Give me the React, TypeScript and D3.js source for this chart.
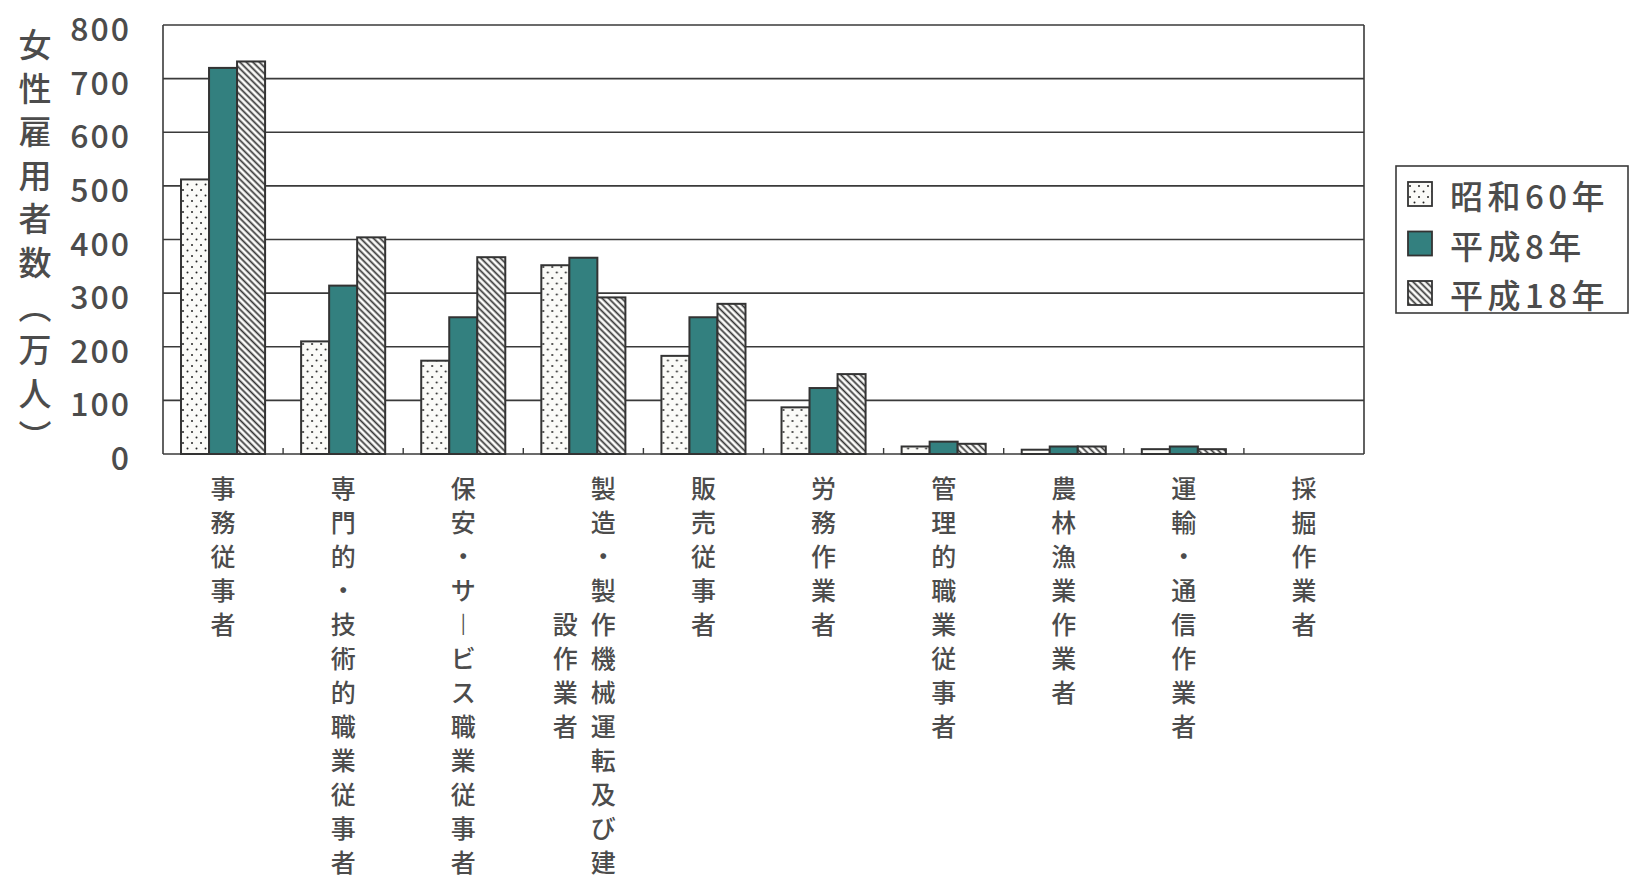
import React, { useEffect, useRef } from "react";
import * as d3 from "d3";

// occupations (each entry = vertical label columns, right to left)
const categories = [
  "事務従事者",
  "専門的・技術的職業従事者",
  "保安・サービス職業従事者",
  "製造・製作機械運転及び建設作業者",
  "販売従事者",
  "労務作業者",
  "管理的職業従事者",
  "農林漁業作業者",
  "運輸・通信作業者",
  "採掘作業者",
];
const labelColumns: string[][] = [
  ["事務従事者"],
  ["専門的・技術的職業従事者"],
  ["保安・サービス職業従事者"],
  ["製造・製作機械運転及び建", "設作業者"],
  ["販売従事者"],
  ["労務作業者"],
  ["管理的職業従事者"],
  ["農林漁業作業者"],
  ["運輸・通信作業者"],
  ["採掘作業者"],
];

const seriesNames = ["昭和60年", "平成8年", "平成18年"];
const showa60 = [512, 210, 174, 352, 183, 87, 14, 8, 9, 0];
const heisei8 = [720, 314, 255, 366, 255, 123, 23, 14, 14, 0];
const heisei18 = [732, 404, 367, 292, 280, 149, 19, 14, 9, 0];

const yTicks = [0, 100, 200, 300, 400, 500, 600, 700, 800];
const yTitle = ["女", "性", "雇", "用", "者", "数", "︵", "万", "人", "︶"];

const W = 1630;
const H = 887;
const FONT = "'Noto Sans CJK JP', 'Noto Sans', sans-serif";
const TEXT = "#4c4c4c";
const LINE = "#3a3a3a";
const TEAL = "#33807f";

const App: React.FC = () => {
  const svgRef = useRef<SVGSVGElement | null>(null);

  useEffect(() => {
    if (!svgRef.current) return;
    const svg = d3.select(svgRef.current);
    svg.selectAll("*").remove();

    const plot = { left: 163, right: 1364, top: 25, bottom: 454 };

    const defs = svg.append("defs");
    const dots = defs
      .append("pattern")
      .attr("id", "dots")
      .attr("patternUnits", "userSpaceOnUse")
      .attr("width", 9)
      .attr("height", 11);
    dots.append("rect").attr("width", 9).attr("height", 11).attr("fill", "#fbfbf8");
    dots.append("circle").attr("cx", 2).attr("cy", 3).attr("r", 1).attr("fill", "#222");
    dots.append("circle").attr("cx", 6.5).attr("cy", 8.5).attr("r", 1).attr("fill", "#222");

    const hatch = defs
      .append("pattern")
      .attr("id", "hatch")
      .attr("patternUnits", "userSpaceOnUse")
      .attr("width", 4.6)
      .attr("height", 4.6)
      .attr("patternTransform", "rotate(45)");
    hatch.append("rect").attr("width", 4.6).attr("height", 4.6).attr("fill", "#fcfcfa");
    hatch
      .append("line")
      .attr("x1", 0)
      .attr("x2", 4.6)
      .attr("y1", 2.3)
      .attr("y2", 2.3)
      .attr("stroke", "#333")
      .attr("stroke-width", 1.7);

    const fills = ["url(#dots)", TEAL, "url(#hatch)"];

    svg.append("rect").attr("width", W).attr("height", H).attr("fill", "#fff");

    const x0 = d3
      .scaleBand<string>()
      .domain(categories)
      .range([plot.left, plot.right])
      .paddingInner(0.3)
      .paddingOuter(0.15);
    const x1 = d3
      .scaleBand<string>()
      .domain(seriesNames)
      .range([0, x0.bandwidth()]);
    const y = d3.scaleLinear().domain([0, 800]).range([plot.bottom, plot.top]);

    // grid
    svg
      .append("g")
      .selectAll("line")
      .data(yTicks)
      .enter()
      .append("line")
      .attr("x1", plot.left)
      .attr("x2", plot.right)
      .attr("y1", (d) => y(d))
      .attr("y2", (d) => y(d))
      .attr("stroke", LINE)
      .attr("stroke-width", 1.6);
    svg
      .append("g")
      .selectAll("line")
      .data([plot.left, plot.right])
      .enter()
      .append("line")
      .attr("x1", (d) => d)
      .attr("x2", (d) => d)
      .attr("y1", plot.top)
      .attr("y2", plot.bottom)
      .attr("stroke", LINE)
      .attr("stroke-width", 1.6);

    // category ticks on baseline
    const step = x0.step();
    svg
      .append("g")
      .selectAll("line")
      .data(d3.range(1, categories.length))
      .enter()
      .append("line")
      .attr("x1", (i) => plot.left + i * step)
      .attr("x2", (i) => plot.left + i * step)
      .attr("y1", plot.bottom)
      .attr("y2", plot.bottom - 6)
      .attr("stroke", LINE)
      .attr("stroke-width", 1.4);

    // bars
    const rows = categories.map((c, i) => ({
      cat: c,
      vals: [showa60[i], heisei8[i], heisei18[i]],
    }));
    const groups = svg
      .append("g")
      .selectAll("g")
      .data(rows)
      .enter()
      .append("g")
      .attr("transform", (d) => `translate(${x0(d.cat)},0)`);
    groups
      .selectAll("rect")
      .data((d) => d.vals.map((v, k) => ({ v, k })))
      .enter()
      .filter((d) => d.v > 0)
      .append("rect")
      .attr("x", (d) => x1(seriesNames[d.k]) as number)
      .attr("width", x1.bandwidth())
      .attr("y", (d) => y(d.v))
      .attr("height", (d) => plot.bottom - y(d.v))
      .attr("fill", (d) => fills[d.k])
      .attr("stroke", "#333")
      .attr("stroke-width", 2);

    // y tick labels
    svg
      .append("g")
      .selectAll("text")
      .data(yTicks)
      .enter()
      .append("text")
      .attr("x", 131)
      .attr("y", (d) => y(d) + 2)
      .attr("text-anchor", "end")
      .attr("dominant-baseline", "central")
      .attr("font-family", FONT)
      .attr("font-size", 32)
      .attr("font-weight", 500)
      .attr("letter-spacing", 2)
      .attr("fill", TEXT)
      .text((d) => d);

    // y title (vertical)
    svg
      .append("g")
      .selectAll("text")
      .data(yTitle)
      .enter()
      .append("text")
      .attr("x", 35)
      .attr("y", (_, i) => 43 + i * 43.6)
      .attr("text-anchor", "middle")
      .attr("dominant-baseline", "central")
      .attr("font-family", FONT)
      .attr("font-size", 33)
      .attr("font-weight", 500)
      .attr("fill", TEXT)
      .text((d) => d);

    // x labels, vertical
    const vert = (ch: string) => (ch === "ー" ? "︱" : ch);
    const rowGap = 34;
    const firstRow = 487;
    categories.forEach((c, ci) => {
      const cols = labelColumns[ci];
      const cx = (x0(c) as number) + x0.bandwidth() / 2;
      const n0 = Array.from(cols[0]).length;
      cols.forEach((col, k) => {
        const chars = Array.from(col);
        const colX = cols.length > 1 ? cx + 20 - k * 38 : cx;
        const offset = k === 0 ? 0 : Math.floor((n0 - chars.length) / 2);
        svg
          .append("g")
          .selectAll("text")
          .data(chars)
          .enter()
          .append("text")
          .attr("x", colX)
          .attr("y", (_, r) => firstRow + (r + offset) * rowGap)
          .attr("text-anchor", "middle")
          .attr("dominant-baseline", "central")
          .attr("font-family", FONT)
          .attr("font-size", 25)
          .attr("font-weight", (d) => (d === "ー" ? 900 : 500))
          .attr("fill", TEXT)
          .text((d) => vert(d));
      });
    });

    // legend
    const lg = svg.append("g");
    lg.append("rect")
      .attr("x", 1396)
      .attr("y", 166)
      .attr("width", 232)
      .attr("height", 147)
      .attr("fill", "#fff")
      .attr("stroke", LINE)
      .attr("stroke-width", 1.6);
    const items = lg
      .selectAll("g")
      .data(seriesNames)
      .enter()
      .append("g")
      .attr("transform", (_, i) => `translate(1408,${194 + i * 49.5})`);
    items
      .append("rect")
      .attr("x", 0)
      .attr("y", -12)
      .attr("width", 24)
      .attr("height", 24)
      .attr("fill", (_, i) => fills[i])
      .attr("stroke", "#333")
      .attr("stroke-width", 1.8);
    items
      .append("text")
      .attr("x", 42)
      .attr("y", 1)
      .attr("dominant-baseline", "central")
      .attr("font-family", FONT)
      .attr("font-size", 33)
      .attr("font-weight", 500)
      .attr("letter-spacing", 4.5)
      .attr("fill", TEXT)
      .text((d) => d);
  }, []);

  return (
    <svg
      ref={svgRef}
      width={W}
      height={H}
      style={{ position: "absolute", left: 0, top: 0 }}
    />
  );
};

export default App;
